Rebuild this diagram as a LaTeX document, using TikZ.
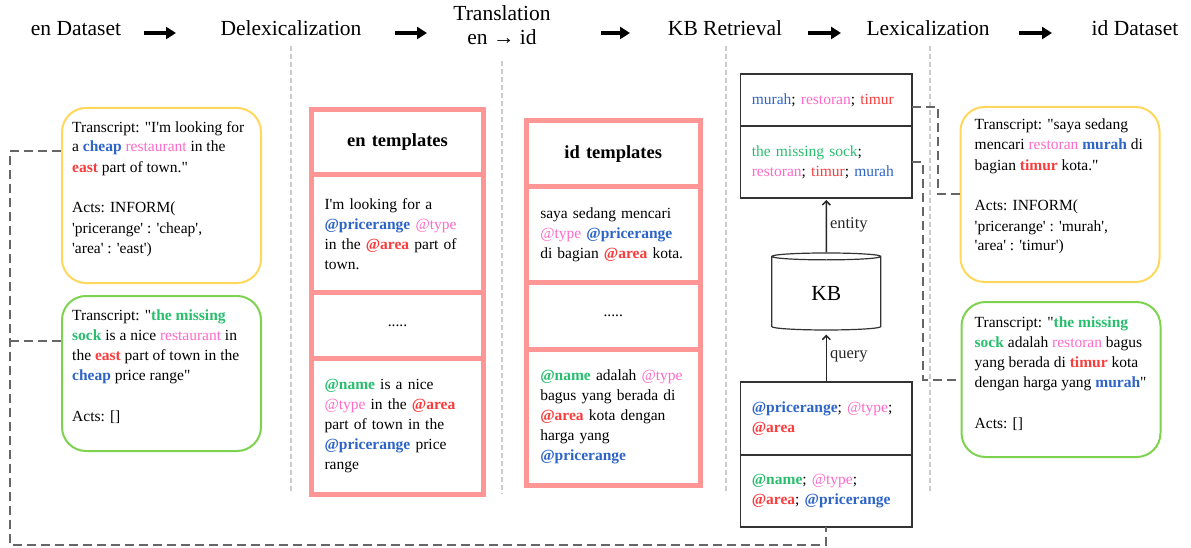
\documentclass[tikz,border=0pt]{standalone}
\usepackage{fontspec}
\setmainfont{Liberation Serif}[Ligatures=TeXOff]
\usetikzlibrary{
    arrows.meta,
    positioning,
    calc,
    shapes.geometric
}
\definecolor{slotblue}{RGB}{45,100,200}
\definecolor{slotpink}{RGB}{255,105,200}
\definecolor{slotred}{RGB}{250,60,60}
\definecolor{slotgreen}{RGB}{40,190,110}
\definecolor{dialogyellow}{RGB}{255,215,90}
\definecolor{dialoggreen}{RGB}{125,210,80}
\definecolor{templatered}{RGB}{255,150,150}
\newcommand{\bodyfont}{\fontsize{15.5}{20}\selectfont}
\newcommand{\slotprice}[1]{\textcolor{slotblue}{\textbf{#1}}}
\newcommand{\slottype}[1]{\textcolor{slotpink}{#1}}
\newcommand{\slotarea}[1]{\textcolor{slotred}{\textbf{#1}}}
\newcommand{\slotname}[1]{\textcolor{slotgreen}{\textbf{#1}}}
\tikzset{
    % Colors
    link color/.style={black!60},
    %
    % Stage titles
    stage/.style={font=\fontsize{21.5}{24}\selectfont, inner sep=0pt, anchor=base},
    stage arrow/.style={-{Triangle[length=10pt,width=12pt]}, line width=4pt},
    stage sep/.style={gray!40, line width=1.3pt, dash pattern=on 5pt off 3pt},
    %
    % Dialogues (text node sits on the baseline of its last line)
    dialog/.style={draw=#1, line width=2pt, rounded corners=24pt, inner sep=0pt, minimum width=199pt},
    dialog text/.style={inner sep=0pt, anchor=base west, align=left, font=\bodyfont},
    %
    % Templates
    tmpl/.style={draw=templatered, line width=5pt, outer sep=0pt, inner xsep=0pt, minimum width=172pt, text width=146pt, align=left, font=\bodyfont},
    tmpl head/.style={tmpl, align=center, font=\bfseries\fontsize{18.5}{22}\selectfont},
    %
    % KB retrieval
    kb cell/.style={draw=black!80, line width=1.2pt, outer sep=0pt, inner xsep=0pt, minimum width=171.5pt, text width=149pt, align=left, font=\bodyfont},
    kb store/.style={cylinder, shape border rotate=90, aspect=0.23, draw=black!80, line width=1.2pt, minimum width=109pt, minimum height=77pt, inner sep=0pt, font=\fontsize{21.5}{22}\selectfont},
    kb arrow/.style={-{Straight Barb[length=4pt,width=8pt]}, line width=1.5pt, black!85},
    kb label/.style={right, inner sep=3pt, font=\fontsize{16.5}{18}\selectfont},
    %
    back link/.style={link color, line width=2pt, dash pattern=on 9pt off 5pt}
}

\begin{document}
\begin{tikzpicture}[x=1pt,y=-1pt]
    \useasboundingbox (0,0) rectangle (1191,548);

    % stages
    \node[stage] (enlab) at (76,36) {en Dataset};
    \node[stage] (delexlab) at (291,36) {Delexicalization};
    \node[stage, align=center] (translab) at (502,45) {Translation\\en → id};
    \node[stage] (kblab) at (725,36) {KB Retrieval};
    \node[stage] (lexlab) at (928,36) {Lexicalization};
    \node[stage] (idlab) at (1135,36) {id Dataset};

    \coordinate (arrowrow) at ([yshift=3pt]enlab.base);
    \draw[stage arrow] ([xshift=68pt]enlab |- arrowrow) -- ([xshift=-115pt]delexlab |- arrowrow);
    \draw[stage arrow] ([xshift=104pt]delexlab |- arrowrow) -- ([xshift=-75pt]translab |- arrowrow);
    \draw[stage arrow] ([xshift=99pt]translab |- arrowrow) -- ([xshift=-95pt]kblab |- arrowrow);
    \draw[stage arrow] ([xshift=83pt]kblab |- arrowrow) -- ([xshift=-87pt]lexlab |- arrowrow);
    \draw[stage arrow] ([xshift=91pt]lexlab |- arrowrow) -- ([xshift=-83pt]idlab |- arrowrow);

    \draw[stage sep] ([yshift=-10pt]delexlab.base) -- ++(0,448);
    \draw[stage sep] ([yshift=-16pt]translab.base) -- ++(0,433);
    \draw[stage sep] ([shift={(1,10)}]kblab.base) -- ++(0,448);
    \draw[stage sep] ([shift={(2,10)}]lexlab.base) -- ++(0,448);

    % en dataset
    \node[dialog=dialogyellow, minimum height=175pt] (enA) at (161.5,195.5) {};
    \node[dialog text] (enAtext) at ([shift={(11,146)}]enA.north west) {Transcript: "I'm looking for\\ a \slotprice{cheap} \slottype{restaurant} in the\\ \slotarea{east} part of town."\\[21pt] Acts: INFORM(\\ 'pricerange' : 'cheap',\\ 'area' : 'east')};
    \node[dialog=dialoggreen, minimum height=155pt] (enB) at (161.5,373.5) {};
    \node[dialog text] (enBtext) at ([shift={(11,126.5)}]enB.north west) {Transcript: "\slotname{the missing}\\ \slotname{sock} is a nice \slottype{restaurant} in\\ the \slotarea{east} part of town in the\\ \slotprice{cheap} price range"\\[21pt] Acts: []};

    % en templates
    \node[tmpl head, minimum height=65.5pt, anchor=north] (enhead) at (397.5,109.5) {en templates};
    \node[tmpl, minimum height=117.5pt, below=0pt of enhead] (enslotA) {I'm looking for a\\ \slotprice{@pricerange} \slottype{@type}\\ in the \slotarea{@area} part of\\ town.};
    \node[tmpl, align=center, minimum height=66pt, below=0pt of enslotA] (endots) {.....};
    \node[tmpl, minimum height=136pt, below=0pt of endots] (enslotB) {\slotname{@name} is a nice\\ \slottype{@type} in the \slotarea{@area}\\ part of town in the\\ \slotprice{@pricerange} price\\ range};

    % id templates
    \node[tmpl head, minimum width=173.5pt, minimum height=66.5pt, anchor=north] (idhead) at (613.25,120.5) {id templates};
    \node[tmpl, minimum width=173.5pt, minimum height=95pt, below=0pt of idhead] (idslotA) {saya sedang mencari\\ \slottype{@type} \slotprice{@pricerange}\\ di bagian \slotarea{@area} kota.};
    \node[tmpl, align=center, minimum width=173.5pt, minimum height=67pt, below=0pt of idslotA] (iddots) {.....};
    \node[tmpl, minimum width=173.5pt, minimum height=136pt, below=0pt of iddots] (idslotB) {\slotname{@name} adalah \slottype{@type}\\ bagus yang berada di\\ \slotarea{@area} kota dengan\\ harga yang\\ \slotprice{@pricerange}};

    % KB retrieval
    \node[kb cell, minimum height=52pt, anchor=north] (entup) at (826.3,74) {\textcolor{slotblue}{murah}; \textcolor{slotpink}{restoran}; \textcolor{slotred}{timur}};
    \node[kb cell, minimum height=72pt, below=0pt of entup] (entlow) {\textcolor{slotgreen}{the missing sock};\\ \textcolor{slotpink}{restoran}; \textcolor{slotred}{timur}; \textcolor{slotblue}{murah}};
    \node[kb store] (kb) at (826.3,293.5) {KB};
    \node[kb cell, minimum height=73pt, anchor=north] (qup) at (826.3,382) {\slotprice{@pricerange}; \slottype{@type};\\ \slotarea{@area}};
    \node[kb cell, minimum height=72pt, below=0pt of qup] (qlow) {\slotname{@name}; \slottype{@type};\\ \slotarea{@area}; \slotprice{@pricerange}};

    \draw[kb arrow, shorten >=2pt] (kb.north) -- (entlow.south) node[kb label, midway] {entity};
    \draw[kb arrow, shorten >=4pt] (qup.north) -- (kb.south) node[kb label, midway] {query};

    % id dataset
    \node[dialog=dialogyellow, minimum height=175pt] (idA) at (1060,194.5) {};
    \node[dialog text] (idAtext) at ([shift={(15,145)}]idA.north west) {Transcript: "saya sedang\\ mencari \slottype{restoran} \slotprice{murah} di\\ bagian \slotarea{timur} kota."\\[21pt] Acts: INFORM(\\ 'pricerange' : 'murah',\\ 'area' : 'timur')};
    \node[dialog=dialoggreen, minimum height=155pt] (idB) at (1061,379.5) {};
    \node[dialog text] (idBtext) at ([shift={(14,127)}]idB.north west) {Transcript: "\slotname{the missing}\\ \slotname{sock} adalah \slottype{restoran} bagus\\ yang berada di \slotarea{timur} kota\\ dengan harga yang \slotprice{murah}"\\[21pt] Acts: []};

    % links
    \coordinate (enAtap) at ([yshift=-44pt]enA.north west);
    \coordinate (enBtap) at ([yshift=-46pt]enB.north west);
    \coordinate (loopcorner) at (10,545);
    \draw[back link] (enAtap) -| (loopcorner) -| (qlow.south);
    \draw[back link] (enBtap) -- (loopcorner |- enBtap);
    \draw[back link] ([yshift=-7pt]entup.east) -| ($(entup.east)!0.55!(idA.west)$) |- (idA.west);
    \draw[back link] (entlow.east) -| ($(entlow.east)!0.23!(idB.west)$) |- (idB.west);
\end{tikzpicture}
\end{document}
